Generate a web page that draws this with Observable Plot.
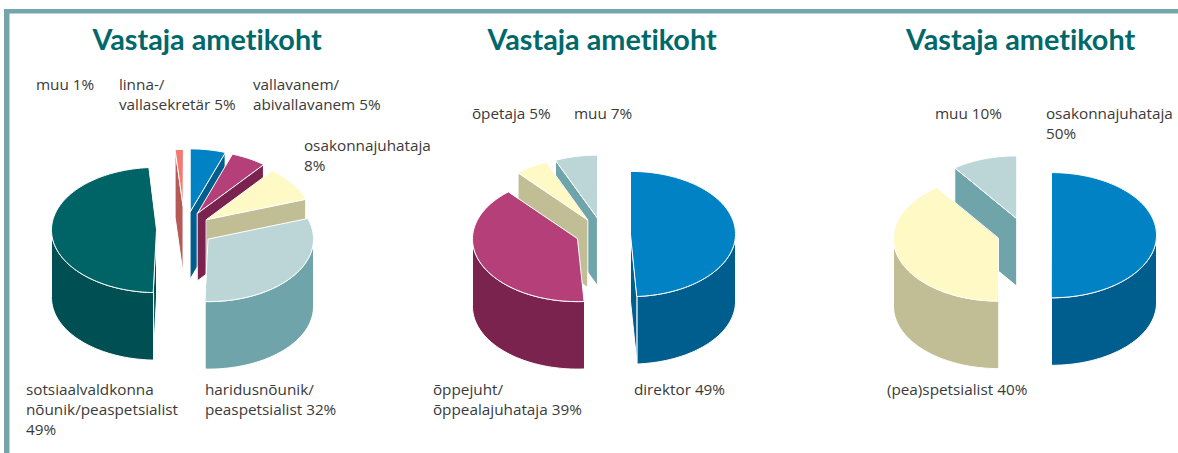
<!DOCTYPE html>
<html lang="et">
<head>
<meta charset="utf-8">
<script src="https://cdn.jsdelivr.net/npm/d3@7"></script>
<script src="https://cdn.jsdelivr.net/npm/@observablehq/plot@0.6"></script>
<style>
html,body{margin:0;padding:0;background:#fff}
svg{display:block}
svg text{font-variant-ligatures:none}
</style>
</head>
<body>
<div id="chart"></div>
<script>
// ---- data: share of respondents ----
const chartTitle = "Vastaja ametikoht";

const pie1Categories = ["linna-/vallasekretär", "vallavanem/abivallavanem", "osakonnajuhataja", "haridusnõunik/peaspetsialist", "sotsiaalvaldkonna nõunik/peaspetsialist", "muu"];
const pie1Values = [5.4, 5.4, 8.9, 30.8, 48.3, 1.2];
const pie1Labels = ["linna-/\nvallasekretär 5%", "vallavanem/\nabivallavanem 5%", "osakonnajuhataja\n8%", "haridusnõunik/\npeaspetsialist 32%", "sotsiaalvaldkonna\nnõunik/peaspetsialist\n49%", "muu 1%"];

const pie2Categories = ["direktor", "õppejuht/õppealajuhataja", "õpetaja", "muu"];
const pie2Values = [49, 39.5, 5, 6.5];
const pie2Labels = ["direktor 49%", "õppejuht/\nõppealajuhataja 39%", "õpetaja 5%", "muu 7%"];

const pie3Categories = ["osakonnajuhataja", "(pea)spetsialist", "muu"];
const pie3Values = [50, 40, 10];
const pie3Labels = ["osakonnajuhataja\n50%", "(pea)spetsialist 40%", "muu 10%"];

// ---- styles ----
const palette = {
  blue: ["#0082c4", "#005e8f"],
  pink: ["#b43f79", "#7a234f"],
  yellow: ["#fff9c5", "#c1be96"],
  light: ["#bcd5d7", "#6fa4ab"],
  teal: ["#006366", "#004f52"],
  salmon: ["#f27a72", "#b65a57"]
};
const pie1Colors = ["blue", "pink", "yellow", "light", "teal", "salmon"];
const pie2Colors = ["blue", "pink", "yellow", "light"];
const pie3Colors = ["blue", "yellow", "light"];

// ---- layout: where each exploded slice sits, and where its label goes ----
const rx = 105, ryDefault = 62.6, depth = 67.5;
const pie1Anchors = [[189.7, 211], [197, 212.7], [206, 219], [208, 238.5], [156, 229.5], [182.5, 205, 56]];
const pie2Anchors = [[630, 233.5], [577, 238.5], [587, 219.3], [596.7, 217.3]];
const pie3Anchors = [[1051, 234.7], [998, 238], [1016, 218]];
const pie1LabelAt = [[118.4, 85], [252.4, 85], [303.4, 146], [204.4, 390], [25.4, 390], [35.4, 85]];
const pie2LabelAt = [[633.4, 390], [432.4, 390], [471.4, 114], [573.4, 114]];
const pie3LabelAt = [[1045.4, 114], [886.4, 390], [934.4, 114]];
const titleAt = [[206.5, 40], [601.5, 40], [1020, 40]];

const pies = [
  {values: pie1Values, categories: pie1Categories, labels: pie1Labels, colors: pie1Colors, anchors: pie1Anchors, labelAt: pie1LabelAt},
  {values: pie2Values, categories: pie2Categories, labels: pie2Labels, colors: pie2Colors, anchors: pie2Anchors, labelAt: pie2LabelAt},
  {values: pie3Values, categories: pie3Categories, labels: pie3Labels, colors: pie3Colors, anchors: pie3Anchors, labelAt: pie3LabelAt}
];

// ---- build polygons from the values ----
const faces = [];
const labelRows = [];
let nextId = 0;
function addFace(points, fill) {
  const id = nextId++;
  for (const [x, y] of points) faces.push({id, x, y, fill});
}
pies.forEach(pie => {
  const total = d3.sum(pie.values);
  let cum = 0;
  const slices = pie.values.map((v, i) => {
    const a0 = cum / total * 360; cum += v;
    const a1 = cum / total * 360;
    const [cx, cy, ry = ryDefault] = pie.anchors[i];
    return {a0, a1, cx, cy, ry, colors: palette[pie.colors[i]]};
  });
  // paint from the back of the picture to the front
  slices.sort((p, q) => p.cy - q.cy).forEach(({a0, a1, cx, cy, ry, colors: [top, side]}) => {
    const at = a => [cx + rx * Math.sin(a * Math.PI / 180), cy - ry * Math.cos(a * Math.PI / 180)];
    const drop = ([x, y]) => [x, y + depth];
    const apex = [cx, cy];
    // only the cut faces that turn towards the viewer
    if (Math.sin(a0 * Math.PI / 180) < -1e-6) addFace([apex, at(a0), drop(at(a0)), drop(apex)], side);
    if (Math.sin(a1 * Math.PI / 180) > 1e-6) addFace([apex, at(a1), drop(at(a1)), drop(apex)], side);
    const w0 = Math.max(a0, 90), w1 = Math.min(a1, 270);
    if (w1 > w0) {
      const arc = d3.range(w0, w1, 1.5).concat(w1).map(at);
      addFace(arc.concat(arc.map(drop).reverse()), side);
    }
    addFace([apex, ...d3.range(a0, a1, 1.5).concat(a1).map(at)], top);
  });
  pie.labels.forEach((text, i) => labelRows.push({text, x: pie.labelAt[i][0], y: pie.labelAt[i][1]}));
});

const titleRows = titleAt.map(([x, y]) => ({text: chartTitle, x, y}));
const frameColor = "#74a5aa";

const chart = Plot.plot({
  width: 1178,
  height: 453,
  margin: 0,
  style: {background: "#fff"},
  x: {domain: [0, 1178], range: [0, 1178], axis: null},
  y: {domain: [0, 453], range: [0, 453], axis: null},
  color: {type: "identity"},
  marks: [
    Plot.rect([{x1: 4, x2: 9.5, y1: 9, y2: 453}, {x1: 4, x2: 1178, y1: 9, y2: 13.5}], {
      x1: "x1", x2: "x2", y1: "y1", y2: "y2", fill: frameColor
    }),
    Plot.line(faces, {
      x: "x", y: "y", z: "id", fill: "fill",
      stroke: "#fff", strokeWidth: 1, curve: "linear-closed", strokeLinejoin: "round"
    }),
    Plot.text(titleRows, {
      x: "x", y: "y", text: "text", textAnchor: "middle",
      fontFamily: "Lato", fontWeight: 700, fontSize: 28.8, fill: "#00686a"
    }),
    Plot.text(labelRows, {
      x: "x", y: d => d.y - 10, text: "text", textAnchor: "start", lineAnchor: "top",
      lineHeight: 1.307,
      fontFamily: "'Open Sans'", fontSize: 15.3, fill: "#3a3a3a"
    })
  ]
});
document.getElementById("chart").appendChild(chart);
</script>
</body>
</html>
